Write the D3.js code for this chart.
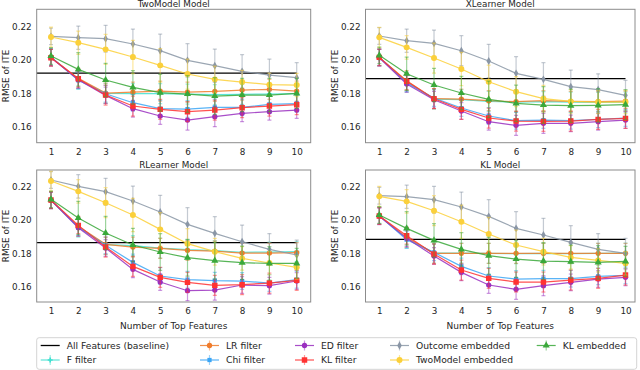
<!DOCTYPE html>
<html>
<head>
<meta charset="utf-8">
<script src="https://cdn.jsdelivr.net/npm/d3@7"></script>
<style>
body { margin: 0; background: #fff; }
text { font-family: "DejaVu Sans", sans-serif; fill: #262626; }
</style>
</head>
<body>
<script>
var width = 640;
var height = 370;

//data
var models = ["TwoModel Model", "XLearner Model", "RLearner Model", "KL Model"];
var features = [1, 2, 3, 4, 5, 6, 7, 8, 9, 10];
var yTicks = [0.16, 0.18, 0.20, 0.22];
var baselines = [0.1922, 0.1888, 0.1864, 0.1884];

//one row per model, same order as models
var fFilter = [
    [0.2016, 0.1884, 0.1800, 0.1798, 0.1798, 0.1796, 0.1792, 0.1794, 0.1796, 0.1798],
    [0.2016, 0.1868, 0.1766, 0.1762, 0.1752, 0.1748, 0.1750, 0.1748, 0.1746, 0.1748],
    [0.2118, 0.1958, 0.1852, 0.1846, 0.1832, 0.1822, 0.1816, 0.1806, 0.1808, 0.1810],
    [0.2026, 0.1890, 0.1802, 0.1802, 0.1800, 0.1798, 0.1800, 0.1798, 0.1800, 0.1802]];
var lrFilter = [
    [0.2016, 0.1890, 0.1802, 0.1808, 0.1814, 0.1808, 0.1812, 0.1820, 0.1824, 0.1814],
    [0.2016, 0.1876, 0.1768, 0.1766, 0.1756, 0.1750, 0.1756, 0.1752, 0.1750, 0.1754],
    [0.2118, 0.1962, 0.1854, 0.1838, 0.1830, 0.1818, 0.1814, 0.1802, 0.1802, 0.1804],
    [0.2026, 0.1896, 0.1800, 0.1800, 0.1800, 0.1800, 0.1800, 0.1800, 0.1800, 0.1800]];
var chiFilter = [
    [0.2018, 0.1878, 0.1798, 0.1744, 0.1708, 0.1706, 0.1716, 0.1716, 0.1734, 0.1738],
    [0.2016, 0.1862, 0.1772, 0.1712, 0.1664, 0.1636, 0.1640, 0.1636, 0.1644, 0.1652],
    [0.2120, 0.1956, 0.1848, 0.1746, 0.1664, 0.1642, 0.1636, 0.1634, 0.1622, 0.1642],
    [0.2026, 0.1882, 0.1806, 0.1722, 0.1664, 0.1646, 0.1648, 0.1648, 0.1662, 0.1668]];
var edFilter = [
    [0.2014, 0.1882, 0.1788, 0.1708, 0.1664, 0.1640, 0.1660, 0.1680, 0.1690, 0.1700],
    [0.2014, 0.1856, 0.1762, 0.1694, 0.1630, 0.1608, 0.1620, 0.1620, 0.1630, 0.1640],
    [0.2118, 0.1954, 0.1832, 0.1704, 0.1628, 0.1576, 0.1580, 0.1610, 0.1606, 0.1634],
    [0.2022, 0.1890, 0.1784, 0.1686, 0.1610, 0.1584, 0.1606, 0.1626, 0.1646, 0.1656]];
var klFilter = [
    [0.2014, 0.1888, 0.1790, 0.1724, 0.1704, 0.1690, 0.1700, 0.1714, 0.1724, 0.1732],
    [0.2016, 0.1872, 0.1768, 0.1704, 0.1652, 0.1634, 0.1632, 0.1634, 0.1644, 0.1650],
    [0.2120, 0.1968, 0.1838, 0.1722, 0.1656, 0.1626, 0.1608, 0.1612, 0.1622, 0.1638],
    [0.2024, 0.1906, 0.1796, 0.1700, 0.1650, 0.1628, 0.1628, 0.1640, 0.1650, 0.1670]];
var outcomeEmb = [
    [0.2142, 0.2134, 0.2128, 0.2096, 0.2056, 0.1998, 0.1966, 0.1932, 0.1910, 0.1894],
    [0.2144, 0.2116, 0.2100, 0.2056, 0.1994, 0.1920, 0.1884, 0.1840, 0.1822, 0.1788],
    [0.2240, 0.2202, 0.2170, 0.2114, 0.2048, 0.1974, 0.1920, 0.1870, 0.1824, 0.1790],
    [0.2146, 0.2140, 0.2122, 0.2078, 0.2022, 0.1950, 0.1910, 0.1866, 0.1824, 0.1800]];
var twoModelEmb = [
    [0.2138, 0.2104, 0.2064, 0.2018, 0.1968, 0.1916, 0.1884, 0.1868, 0.1852, 0.1850],
    [0.2136, 0.2076, 0.2012, 0.1946, 0.1870, 0.1810, 0.1768, 0.1752, 0.1748, 0.1748],
    [0.2234, 0.2172, 0.2104, 0.2030, 0.1944, 0.1858, 0.1810, 0.1770, 0.1742, 0.1716],
    [0.2142, 0.2112, 0.2056, 0.1990, 0.1916, 0.1850, 0.1810, 0.1776, 0.1758, 0.1740]];
var klEmb = [
    [0.2024, 0.1944, 0.1880, 0.1836, 0.1804, 0.1796, 0.1784, 0.1790, 0.1790, 0.1800],
    [0.2028, 0.1918, 0.1850, 0.1802, 0.1764, 0.1740, 0.1730, 0.1726, 0.1728, 0.1732],
    [0.2124, 0.2012, 0.1922, 0.1850, 0.1808, 0.1774, 0.1756, 0.1744, 0.1740, 0.1740],
    [0.2030, 0.1950, 0.1878, 0.1824, 0.1786, 0.1766, 0.1754, 0.1750, 0.1746, 0.1752]];

//half-width of the error bars, per series
var fErr        = [0.005, 0.006, 0.006, 0.006, 0.006, 0.006, 0.006, 0.006, 0.006, 0.006];
var lrErr       = [0.005, 0.006, 0.006, 0.006, 0.006, 0.006, 0.006, 0.006, 0.006, 0.006];
var chiErr      = [0.005, 0.005, 0.005, 0.005, 0.005, 0.005, 0.005, 0.005, 0.005, 0.005];
var edErr       = [0.005, 0.005, 0.005, 0.005, 0.005, 0.006, 0.006, 0.005, 0.005, 0.005];
var klErr       = [0.005, 0.005, 0.006, 0.006, 0.006, 0.006, 0.006, 0.006, 0.006, 0.006];
var outcomeErr  = [0.005, 0.007, 0.008, 0.009, 0.010, 0.010, 0.010, 0.010, 0.0095, 0.009];
var twoModelErr = [0.006, 0.007, 0.009, 0.010, 0.010, 0.009, 0.008, 0.007, 0.007, 0.007];
var klEmbErr    = [0.005, 0.010, 0.010, 0.010, 0.011, 0.011, 0.011, 0.010, 0.010, 0.009];

var seriesNames = ["F filter", "LR filter", "Chi filter", "ED filter", "KL filter",
                   "Outcome embedded", "TwoModel embedded", "KL embedded"];

//style per series (drawing order = legend order)
var series = [
    {name: seriesNames[0], vals: fFilter,     err: fErr,        color: "#40e0d0", sym: d3.symbolCross,    size: 14},
    {name: seriesNames[1], vals: lrFilter,    err: lrErr,       color: "#f07c2c", sym: d3.symbolCircle,   size: 22},
    {name: seriesNames[2], vals: chiFilter,   err: chiErr,      color: "#3ca6f5", sym: d3.symbolSquare,   size: 18},
    {name: seriesNames[3], vals: edFilter,    err: edErr,       color: "#9a2fc0", sym: d3.symbolCircle,   size: 22},
    {name: seriesNames[4], vals: klFilter,    err: klErr,       color: "#ff3232", sym: d3.symbolSquare,   size: 30},
    {name: seriesNames[5], vals: outcomeEmb,  err: outcomeErr,  color: "#8a96a6", sym: d3.symbolDiamond,  size: 18},
    {name: seriesNames[6], vals: twoModelEmb, err: twoModelErr, color: "#fbd03a", sym: d3.symbolCircle,   size: 28},
    {name: seriesNames[7], vals: klEmb,       err: klEmbErr,    color: "#3aa83a", sym: d3.symbolTriangle, size: 22}
];

//panel boxes (frame) and where ticks 1/10 and 0.16/0.22 land
var panels = [
    {left: 36.7,  right: 310.7, top: 9.3,  bottom: 142.7, x1: 51,    x10: 296.7, y16: 126.7, y22: 26.7},
    {left: 365.5, right: 635,   top: 9.3,  bottom: 142.7, x1: 379.3, x10: 625.5, y16: 126.7, y22: 26.7},
    {left: 36.7,  right: 310.7, top: 170,  bottom: 302,   x1: 51,    x10: 296.7, y16: 286.7, y22: 186.7},
    {left: 365.5, right: 635,   top: 170,  bottom: 302,   x1: 379.3, x10: 625.5, y16: 286.7, y22: 186.7}
];

var svg = d3.select("body").append("svg")
    .attr("width", width)
    .attr("height", height);

svg.append("rect").attr("width", width).attr("height", height).attr("fill", "white");

function drawPanel(p, i){
    var x = d3.scaleLinear().domain([1, 10]).range([p.x1, p.x10]);
    var y = d3.scaleLinear().domain([0.16, 0.22]).range([p.y16, p.y22]);

    svg.append("clipPath").attr("id", "clip" + i)
        .append("rect")
        .attr("x", p.left).attr("y", p.top)
        .attr("width", p.right - p.left).attr("height", p.bottom - p.top);

    //axes without tick marks
    var xAxis = svg.append("g")
        .attr("transform", "translate(0," + p.bottom + ")")
        .call(d3.axisBottom(x).tickValues(features).tickSize(0).tickPadding(6));
    xAxis.select(".domain").remove();
    xAxis.selectAll("text").attr("font-size", "8.8px").attr("font-family", "DejaVu Sans").attr("fill", "#262626");

    var yAxis = svg.append("g")
        .attr("transform", "translate(" + p.left + ",0)")
        .call(d3.axisLeft(y).tickValues(yTicks).tickFormat(d3.format(".2f")).tickSize(0).tickPadding(5));
    yAxis.select(".domain").remove();
    yAxis.selectAll("text").attr("font-size", "8.8px").attr("font-family", "DejaVu Sans").attr("fill", "#262626");

    svg.append("text")
        .attr("x", (p.left + p.right) / 2).attr("y", p.top - 2.5)
        .attr("text-anchor", "middle").attr("font-size", "8.8px")
        .text(models[i]);

    svg.append("text")
        .attr("transform", "translate(" + (p.left - 28) + "," + ((p.top + p.bottom) / 2) + ") rotate(-90)")
        .attr("text-anchor", "middle").attr("font-size", "8.8px")
        .text("RMSE of ITE");

    if (i >= 2){
        svg.append("text")
            .attr("x", (p.left + p.right) / 2).attr("y", p.bottom + 26.5)
            .attr("text-anchor", "middle").attr("font-size", "9px")
            .text("Number of Top Features");
    }

    var plot = svg.append("g").attr("clip-path", "url(#clip" + i + ")");

    //baseline from x=0 to x=10
    plot.append("line")
        .attr("x1", x(0)).attr("x2", x(10))
        .attr("y1", y(baselines[i])).attr("y2", y(baselines[i]))
        .attr("stroke", "black").attr("stroke-width", 1.3);

    var line = d3.line()
        .x(function(d, k){ return x(features[k]); })
        .y(function(d){ return y(d); });

    series.forEach(function(s){
        var vals = s.vals[i];
        var g = plot.append("g");
        //error bars
        var eb = g.append("g").attr("stroke", s.color).attr("stroke-opacity", 0.5).attr("stroke-width", 1.2);
        vals.forEach(function(v, k){
            var cx = x(features[k]);
            var lo = y(v - s.err[k]), hi = y(v + s.err[k]);
            eb.append("line").attr("x1", cx).attr("x2", cx).attr("y1", lo).attr("y2", hi);
            eb.append("line").attr("x1", cx - 2).attr("x2", cx + 2).attr("y1", lo).attr("y2", lo);
            eb.append("line").attr("x1", cx - 2).attr("x2", cx + 2).attr("y1", hi).attr("y2", hi);
        });
        g.append("path")
            .attr("d", line(vals))
            .attr("fill", "none")
            .attr("stroke", s.color).attr("stroke-opacity", 0.85).attr("stroke-width", 1.2);
        g.selectAll(".pt").data(vals).enter().append("path")
            .attr("transform", function(d, k){ return "translate(" + x(features[k]) + "," + y(d) + ")"; })
            .attr("d", d3.symbol().type(s.sym).size(s.size))
            .attr("fill", s.color);
    });

    //frame
    svg.append("rect")
        .attr("x", p.left).attr("y", p.top)
        .attr("width", p.right - p.left).attr("height", p.bottom - p.top)
        .attr("fill", "none").attr("stroke", "#8c8c8c").attr("stroke-width", 1);
}

panels.forEach(drawPanel);

//legend, 5 columns filled column-wise
var legendItems = [{name: "All Features (baseline)", color: "black", baseline: true}].concat(series);
var legendCols = [40.7, 200, 295, 390, 536.7];
var legendRows = [345.5, 360];

var legend = svg.append("g");
legend.append("rect")
    .attr("x", 36.7).attr("y", 337.7)
    .attr("width", 600).attr("height", 31.6)
    .attr("rx", 2.5)
    .attr("fill", "white").attr("stroke", "#d4d4d4").attr("stroke-width", 1);

legendItems.forEach(function(s, k){
    var lx = legendCols[Math.floor(k / 2)];
    var ly = legendRows[k % 2];
    var item = legend.append("g");
    item.append("line")
        .attr("x1", lx).attr("x2", lx + 19).attr("y1", ly).attr("y2", ly)
        .attr("stroke", s.color).attr("stroke-width", s.baseline ? 1.3 : 1.2)
        .attr("stroke-opacity", s.baseline ? 1 : 0.85);
    if (!s.baseline){
        item.append("line")
            .attr("x1", lx + 9.5).attr("x2", lx + 9.5).attr("y1", ly - 5).attr("y2", ly + 5)
            .attr("stroke", s.color).attr("stroke-opacity", 0.5).attr("stroke-width", 1.2);
        item.append("path")
            .attr("transform", "translate(" + (lx + 9.5) + "," + ly + ")")
            .attr("d", d3.symbol().type(s.sym).size(s.size))
            .attr("fill", s.color);
    }
    item.append("text")
        .attr("x", lx + 26).attr("y", ly + 3.3)
        .attr("font-size", "9.2px")
        .text(s.name);
});
</script>
</body>
</html>
